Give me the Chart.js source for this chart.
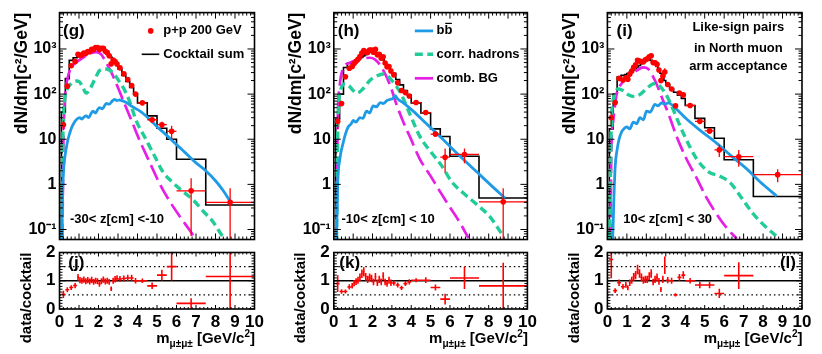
<!DOCTYPE html>
<html><head><meta charset="utf-8">
<script src="https://cdn.jsdelivr.net/npm/chart.js@4.4.1/dist/chart.umd.min.js"></script>
<style>
html,body{margin:0;padding:0;background:#fff;}
#wrap{position:relative;width:822px;height:354px;overflow:hidden;background:#fff;}
#wrap canvas{position:absolute;left:0;top:0;}
</style></head>
<body><div id="wrap"></div>
<script>
// ---------------- data ----------------
const massEdges = [0.1,0.3,0.5,0.7,0.9,1.0,1.1,1.2,1.3,1.4,1.5,1.6,1.7,1.8,1.9,2.0,2.1,2.2,2.3,2.4,2.5,2.6,2.7,2.8,2.9,3.0,3.2,3.4,3.6,3.8,4.0,4.5,5.0,5.5,6.0,7.5,10.0];
const massCenters = [0.2,0.4,0.6,0.8,0.95,1.05,1.15,1.25,1.35,1.45,1.55,1.65,1.75,1.85,1.95,2.05,2.15,2.25,2.35,2.45,2.55,2.65,2.75,2.85,2.95,3.1,3.3,3.5,3.7,3.9,4.25,4.75,5.25,5.75,6.75,8.75];

// (g)/(j)  -30 < z < -10
const cocktailG = [40,220,560,640,680, 700,740,780,820,860,900,960,1020,1080,1100,1100,1060,1000,920,830,740,650,570,500,430, 360,260,190,140,100, 64,33,17.5,10,3.6,0.35];
const dataG = [21,150,425,530,760, 714,740,811,804,877,873,989,979,1080,1078,968,1039,1040,892,830,710,468,570,525,464, 382,281,209,154,100, 64,27,21,15,0.72,0.4];
const ratioG = [0.52,0.68,0.76,0.83,1.12, 1.02,1.0,1.04,0.98,1.02,0.97,1.03,0.96,1.0,0.98,0.88,0.98,1.04,0.97,1.0,0.96,0.72,1.0,1.05,1.08, 1.06,1.08,1.1,1.1,1.0, 1.0,0.82,1.2,1.5,0.2,1.15];
const relErrG = [0.25,0.13,0.11,0.11,0.11, 0.11,0.11,0.11,0.11,0.11,0.11,0.11,0.11,0.11,0.11,0.11,0.11,0.11,0.11,0.11,0.11,0.11,0.11,0.11,0.11, 0.1,0.1,0.1,0.1,0.1, 0.08,0.14,0.16,0.33,0.9,1.05];
const bbMassG = [0.1,0.15,0.2,0.26,0.35,0.45,0.6,0.77,0.9,1.03,1.15,1.25,1.37,1.5,1.6,1.71,1.85,1.95,2.05,2.2,2.4,2.55,2.7,2.82,2.95,3.08,3.4,3.76,4.2,4.53,5.0,5.47,6.0,6.5,7.0,7.5,8.0,8.4,8.75];
const bbG = [0.06,0.5,1.8,3.6,6.5,10.5,17,24,28,30,28,31,33,30,36,42,38,45,50,47,62,60,70,76,72,74,66,52,40,30,19,12.5,7.6,4.8,3.0,2.0,1.2,0.72,0.42];
const hadMassG = [0.12,0.18,0.26,0.4,0.6,0.85,1.03,1.2,1.37,1.6,1.85,2.05,2.39,2.73,3.08,3.35,3.59,3.93,4.45,4.87,5.3,5.81,6.32,6.84,7.35,7.86,8.38,8.6];
const hadG = [0.06,15,70,130,170,195,185,140,105,140,230,330,360,300,187,120,70,26,9.6,4.3,1.9,1.1,0.7,0.46,0.26,0.15,0.07,0.06];
const combMassG = [0.15,0.2,0.26,0.33,0.43,0.6,0.85,1.2,1.54,1.88,2.14,2.39,2.73,3.08,3.42,3.76,4.1,4.62,5.13,5.64,6.15,6.67,7.0];
const combG = [0.06,8,59,140,240,390,500,640,780,850,760,500,260,114,50,22,9.6,3.1,1.05,0.43,0.2,0.097,0.06];

// (h)/(k)  -10 < z < 10
const cocktailH = [28,100,390,480,500, 520,550,580,610,650,700,750,800,850,880,880,860,800,730,650,580,510,450,400,350, 290,210,160,120,95, 64,38,17,11.5,4.2,0.5];
const dataH = [25,62,242,374,410, 478,534,592,683,813,924,855,840,952,950,845,980,744,767,624,673,490,405,408,326, 267,179,120,108,91, 65,39,13,4.0,4.6,0.41];
const ratioH = [0.9,0.62,0.62,0.78,0.82, 0.92,0.97,1.02,1.12,1.25,1.32,1.14,1.05,1.12,1.08,0.96,1.14,0.93,1.05,0.96,1.16,0.96,0.9,1.02,0.93, 0.92,0.85,0.75,0.9,0.96, 1.02,1.02,0.76,0.35,1.1,0.82];
const relErrH = [0.33,0.13,0.12,0.12,0.12, 0.12,0.12,0.12,0.12,0.12,0.12,0.12,0.12,0.12,0.12,0.12,0.12,0.12,0.12,0.12,0.12,0.12,0.12,0.12,0.12, 0.1,0.1,0.1,0.1,0.1, 0.07,0.1,0.14,0.55,0.36,1.0];
const bbMassH = [0.14,0.2,0.31,0.48,0.6,0.74,0.9,1.0,1.15,1.34,1.5,1.69,1.85,2.03,2.2,2.4,2.55,2.75,2.9,3.05,3.16,3.3,3.59,4.1,4.79,5.66,6.52,7.38,8.07,8.84];
const bbH = [0.06,1.0,3.6,8.2,13,18.7,22,26,24,30,29,42,38,55,52,65,62,72,76,80,92,78,64,42,22,9.7,4.2,1.9,1.0,0.5];
const hadMassH = [0.14,0.22,0.35,0.57,0.8,1.0,1.2,1.5,1.86,2.2,2.55,2.75,3.0,3.41,3.93,4.45,5.05,5.57,6.09,6.69,7.38,8.07,8.76];
const hadH = [0.06,30,120,170,150,120,105,130,200,250,280,260,200,114,36,11.4,5,2.6,1.14,0.64,0.36,0.19,0.07];
const combMassH = [0.14,0.2,0.31,0.48,0.83,1.34,1.86,2.12,2.47,2.9,3.24,3.59,3.93,4.45,4.97,5.48,6.0,6.52,6.95];
const combH = [0.06,20,159,361,500,590,640,590,390,160,59,24,11.4,3.6,1.6,0.7,0.31,0.14,0.065];

// (i)/(l)  10 < z < 30
const cocktailI = [17,100,240,260,270, 285,300,320,345,370,400,430,470,510,550,580,580,560,520,470,410,350,290,240,200, 160,130,110,95,80, 56,29,18,10.5,3.5,0.54];
const dataI = [30,65,223,205,230, 214,279,326,393,444,560,542,526,520,578,609,673,706,499,494,459,343,200,252,310, 163,130,55,106,96, 56,25,15.3,5.8,4.1,1.64];
const ratioI = [1.75,0.65,0.93,0.79,0.85, 0.75,0.93,1.02,1.14,1.2,1.4,1.26,1.12,1.02,1.05,1.05,1.16,1.26,0.96,1.05,1.12,0.98,0.69,1.05,1.55, 1.02,1.0,0.5,1.12,1.2, 1.0,0.85,0.85,0.55,1.18,3.0];
const relErrI = [0.38,0.13,0.12,0.12,0.12, 0.12,0.12,0.12,0.12,0.12,0.12,0.12,0.12,0.12,0.12,0.12,0.12,0.12,0.12,0.12,0.12,0.12,0.13,0.12,0.2, 0.11,0.11,0.12,0.11,0.11, 0.1,0.14,0.14,0.3,0.4,0.32];
const bbMassI = [0.27,0.3,0.33,0.4,0.5,0.6,0.73,0.85,0.99,1.15,1.33,1.5,1.67,1.85,2.01,2.2,2.44,2.6,2.78,2.95,3.13,3.56,4.07,4.75,5.61,6.47,7.16,7.84,8.7];
const bbI = [0.06,0.15,0.43,2.5,5.9,10,14.6,17,18.7,17,24,22,30,27,42,40,59,55,64,60,64,46,28,15.9,8.2,3.9,2.2,1.14,0.55];
const hadMassI = [0.12,0.2,0.35,0.55,0.8,1.1,1.4,1.7,2.0,2.3,2.5,2.7,3.0,3.3,3.5,4.0,4.6,5.2,5.8,6.3,6.9,7.5,8.0,8.7];
const hadI = [0.06,20,90,130,120,95,88,100,130,165,172,150,100,55,34,11,3.6,1.9,1.5,1.1,0.5,0.22,0.13,0.07];
const combMassI = [0.16,0.2,0.3,0.47,0.73,1.16,1.5,1.84,2.1,2.44,2.78,3.21,3.56,4.07,4.58,5.1,5.61,6.12,6.64];
const combI = [0.06,5,26,97,172,260,330,390,360,203,89,30,11.4,3.6,1.4,0.5,0.22,0.11,0.063];

// axes
const YMIN = 0.06, YMAX = 6400, XMIN = 0, XMAX = 10;
const topYTicks = [0.1, 1, 10, 100, 1000];
const topYTickLabels = ['10\u207B\u00B9', '1', '10', '10\u00B2', '10\u00B3'];
const ratioYTicks = [0, 1, 2];
const xTicks = [0,1,2,3,4,5,6,7,8,9,10];
const refLevels = [0.5, 1.0, 1.5];

// ---------------- styles & layout ----------------
const FONT = "'Liberation Sans', Arial, Helvetica, sans-serif";
const RED = '#ff0000', BLUE = '#1f9be6', TEAL = '#22cc99', MAG = '#e61ee6';
const TOP_T = 5, TOP_B = 239.5, BOT_T = 252.5, BOT_B = 309;
const wrap = document.getElementById('wrap');

function mk() {
  const c = document.createElement('canvas');
  c.width = 822; c.height = 354; c.style.width = '822px'; c.style.height = '354px';
  wrap.appendChild(c); return c;
}
function pts(xs, ys) { return xs.map((x, i) => ({x: x, y: ys[i]})); }
function txt(ctx, s, x, y, size, align, base) {
  ctx.font = 'bold ' + size + 'px ' + FONT; ctx.fillStyle = '#000';
  ctx.textAlign = align || 'left'; ctx.textBaseline = base || 'middle'; ctx.fillText(s, x, y);
}
function rich(ctx, segs, x, y) { // right aligned, alphabetic baseline
  let w = 0;
  segs.forEach(s => { ctx.font = 'bold ' + s.size + 'px ' + FONT; s.w = ctx.measureText(s.t).width; w += s.w; });
  let cx = x - w; ctx.textAlign = 'left'; ctx.textBaseline = 'alphabetic'; ctx.fillStyle = '#000';
  segs.forEach(s => { ctx.font = 'bold ' + s.size + 'px ' + FONT; ctx.fillText(s.t, cx, y + (s.dy || 0)); cx += s.w; });
}
function legLine(ctx, x1, x2, y, color, w, dash) {
  ctx.save(); ctx.strokeStyle = color; ctx.lineWidth = w; ctx.setLineDash(dash || []);
  ctx.beginPath(); ctx.moveTo(x1, y); ctx.lineTo(x2, y); ctx.stroke(); ctx.restore();
}

function framePlugin(kind) {
  return { id: 'frame', afterDatasetsDraw(chart) {
    const ctx = chart.ctx, a = chart.chartArea, xs = chart.scales.x, ys = chart.scales.y;
    ctx.save(); ctx.strokeStyle = '#000'; ctx.lineWidth = 1; ctx.setLineDash([]);
    ctx.beginPath();
    const xb = kind === 'log' ? 6 : 4, xsm = xb / 2;
    for (let k = 0; k <= 50; k++) {
      const px = xs.getPixelForValue(k / 5), L = (k % 5 === 0) ? xb : xsm;
      ctx.moveTo(px, a.bottom); ctx.lineTo(px, a.bottom - L);
      ctx.moveTo(px, a.top); ctx.lineTo(px, a.top + L);
    }
    if (kind === 'log') {
      for (let e = -2; e <= 3; e++) for (let m = 1; m <= 9; m++) {
        const v = m * Math.pow(10, e); if (v < YMIN || v > YMAX) continue;
        const py = ys.getPixelForValue(v), L = m === 1 ? 7 : 3.5;
        ctx.moveTo(a.left, py); ctx.lineTo(a.left + L, py);
        ctx.moveTo(a.right, py); ctx.lineTo(a.right - L, py);
      }
    } else {
      for (let k = 0; k <= 20; k++) {
        const py = ys.getPixelForValue(k / 10), L = k % 10 === 0 ? 6 : (k % 5 === 0 ? 4.5 : 3);
        ctx.moveTo(a.left, py); ctx.lineTo(a.left + L, py);
        ctx.moveTo(a.right, py); ctx.lineTo(a.right - L, py);
      }
    }
    ctx.stroke();
    ctx.lineWidth = 1.6; ctx.strokeRect(a.left, a.top, a.right - a.left, a.bottom - a.top);
    ctx.restore();
  }};
}

function errPlugin(xv, yv, rel, idx, lw) {
  return { id: 'err', beforeDatasetDraw(chart, args) {
    if (args.index !== idx) return;
    const ctx = chart.ctx, a = chart.chartArea, xs = chart.scales.x, ys = chart.scales.y;
    ctx.save(); ctx.beginPath(); ctx.rect(a.left, a.top, a.right - a.left, a.bottom - a.top); ctx.clip();
    ctx.strokeStyle = RED; ctx.lineWidth = lw; ctx.beginPath();
    xv.forEach((x, i) => {
      const y = yv[i], e = y * rel[i];
      const px = xs.getPixelForValue(x), py = ys.getPixelForValue(y);
      const xl = xs.getPixelForValue(massEdges[i]), xr = xs.getPixelForValue(massEdges[i + 1]);
      const yt = ys.getPixelForValue(y + e);
      const lo = y - e;
      const yb = (ys.type === 'logarithmic' && lo <= 0) ? a.bottom + 20 : ys.getPixelForValue(lo);
      ctx.moveTo(xl, py); ctx.lineTo(xr, py); ctx.moveTo(px, yt); ctx.lineTo(px, yb);
    });
    ctx.stroke(); ctx.restore();
  }};
}

function textPlugin(fn) { return { id: 'txt', afterDraw(chart) { const ctx = chart.ctx; ctx.save(); fn(ctx, chart.chartArea); ctx.restore(); } }; }

function topChart(P) {
  const histPts = [{x: massEdges[0], y: YMIN / 2}].concat(massEdges.map((e, i) => ({x: e, y: P.hist[Math.min(i, P.hist.length - 1)]})));
  new Chart(mk(), {
    type: 'scatter',
    data: { datasets: [
      {label: 'p+p 200 GeV', data: pts(massCenters, P.data), showLine: false, pointRadius: 2.8, pointBackgroundColor: RED, pointBorderWidth: 0, pointBorderColor: RED},
      {label: 'bb\u0304', data: pts(P.bbM, P.bb), showLine: true, borderColor: BLUE, borderWidth: 2.8, pointRadius: 0, cubicInterpolationMode: 'monotone'},
      {label: 'corr. hadrons', data: pts(P.hadM, P.had), showLine: true, borderColor: TEAL, borderWidth: 3.4, borderDash: [8, 4.5], pointRadius: 0, cubicInterpolationMode: 'monotone'},
      {label: 'comb. BG', data: pts(P.combM, P.comb), showLine: true, borderColor: MAG, borderWidth: 2.7, borderDash: [16, 6], pointRadius: 0, cubicInterpolationMode: 'monotone'},
      {label: 'Cocktail sum', data: histPts, showLine: true, stepped: 'before', borderColor: '#000', borderWidth: 1.6, pointRadius: 0}
    ]},
    options: {
      responsive: false, animation: false, devicePixelRatio: 1, events: [],
      layout: { autoPadding: false, padding: { left: P.l - 48, right: 822 - P.r, top: TOP_T, bottom: 354 - TOP_B } },
      plugins: { legend: { display: false }, tooltip: { enabled: false } },
      scales: {
        x: { type: 'linear', position: 'bottom', min: XMIN, max: XMAX, ticks: { display: false }, grid: { display: false, drawTicks: false }, border: { display: false }, afterFit(s) { s.height = 0; } },
        y: { type: 'logarithmic', position: 'left', min: YMIN, max: YMAX,
             afterBuildTicks(s) { s.ticks = topYTicks.map(v => ({value: v})); },
             ticks: { autoSkip: false, padding: 3, color: '#000', font: { family: FONT, size: 16, weight: 'bold' }, callback: (v, i) => topYTickLabels[i] },
             grid: { display: false, drawTicks: false }, border: { display: false },
             title: { display: true, text: 'dN/dm[c\u00B2/GeV]', align: 'end', color: '#000', font: { family: FONT, size: 17.5, weight: 'bold' }, padding: 0 },
             afterFit(s) { s.width = 48; } }
      }
    },
    plugins: [framePlugin('log'), errPlugin(massCenters, P.data, P.err, 0, 1.3), textPlugin(P.topText)]
  });
}

function botChart(P) {
  const ds = [{label: 'data/cocktail', data: pts(massCenters, P.ratio), showLine: false, pointRadius: 0}];
  refLevels.forEach(lv => ds.push({label: 'ref', data: [{x: XMIN, y: lv}, {x: XMAX, y: lv}], showLine: true, pointRadius: 0,
    borderColor: '#000', borderWidth: lv === 1 ? 1.4 : 1.1, borderDash: lv === 1 ? [] : [1.5, 3]}));
  new Chart(mk(), {
    type: 'scatter',
    data: { datasets: ds },
    options: {
      responsive: false, animation: false, devicePixelRatio: 1, events: [],
      layout: { autoPadding: false, padding: { left: P.l - 41.5, right: 822 - P.r, top: BOT_T, bottom: 354 - BOT_B - 20 } },
      plugins: { legend: { display: false }, tooltip: { enabled: false } },
      scales: {
        x: { type: 'linear', position: 'bottom', min: XMIN, max: XMAX,
             afterBuildTicks(s) { s.ticks = xTicks.map(v => ({value: v})); },
             ticks: { autoSkip: false, maxRotation: 0, minRotation: 0, padding: 3, color: '#000', font: { family: FONT, size: 17, weight: 'bold' }, callback: v => String(v) },
             grid: { display: false, drawTicks: false }, border: { display: false }, afterFit(s) { s.height = 20; } },
        y: { type: 'linear', position: 'left', min: 0, max: 2,
             afterBuildTicks(s) { s.ticks = ratioYTicks.map(v => ({value: v})); },
             ticks: { autoSkip: false, padding: 4, color: '#000', font: { family: FONT, size: 17, weight: 'bold' }, callback: v => String(v) },
             grid: { display: false, drawTicks: false }, border: { display: false },
             title: { display: true, text: 'data/cocktail', align: 'end', color: '#000', font: { family: FONT, size: 15, weight: 'bold' }, padding: 0 },
             afterFit(s) { s.width = 41.5; } }
      }
    },
    plugins: [framePlugin('lin'), errPlugin(massCenters, P.ratio, P.err, 0, 1.6), textPlugin(P.botText)]
  });
}

function xTitle(ctx, a) {
  rich(ctx, [{t: 'm', size: 15}, {t: '\u03BC\u00B1\u03BC\u00B1', size: 10, dy: 4}, {t: ' [GeV/c', size: 15}, {t: '2', size: 10, dy: -6}, {t: ']', size: 15}], a.right + 0.5, a.bottom + 34);
}

const panels = [
  { l: 59.5, r: 254.5, hist: cocktailG, data: dataG, ratio: ratioG, err: relErrG, bbM: bbMassG, bb: bbG, hadM: hadMassG, had: hadG, combM: combMassG, comb: combG,
    topText(ctx, a) {
      txt(ctx, '(g)', a.left + 3.5, a.top + 19, 17);
      ctx.fillStyle = RED; ctx.beginPath(); ctx.arc(a.left + 91.2, a.top + 18.3, 2.8, 0, Math.PI * 2); ctx.fill();
      txt(ctx, 'p+p 200 GeV', a.left + 103.8, a.top + 18.3, 13);
      legLine(ctx, a.left + 82.2, a.left + 99.8, a.top + 41.7, '#000', 1.6);
      txt(ctx, 'Cocktail sum', a.left + 103.8, a.top + 41.7, 13);
      txt(ctx, '-30< z[cm] <-10', a.left + 10.5, a.top + 207, 13);
    },
    botText(ctx, a) { txt(ctx, '(j)', a.left + 8.8, a.top + 10.5, 17); xTitle(ctx, a); } },
  { l: 333.8, r: 527.4, hist: cocktailH, data: dataH, ratio: ratioH, err: relErrH, bbM: bbMassH, bb: bbH, hadM: hadMassH, had: hadH, combM: combMassH, comb: combH,
    topText(ctx, a) {
      txt(ctx, '(h)', a.left + 4, a.top + 19, 17);
      legLine(ctx, a.left + 81, a.left + 99.3, a.top + 18.3, BLUE, 2.8);
      txt(ctx, 'bb', a.left + 102.7, a.top + 18.3, 13);
      ctx.font = 'bold 13px ' + FONT; const wb = ctx.measureText('b').width;
      legLine(ctx, a.left + 102.7 + wb + 0.8, a.left + 102.7 + 2 * wb - 0.5, a.top + 18.3 - 7.5, '#000', 1.2);
      legLine(ctx, a.left + 81, a.left + 99.3, a.top + 41.7, TEAL, 3.4, [8, 4.5]);
      txt(ctx, 'corr. hadrons', a.left + 102.7, a.top + 41.7, 13);
      legLine(ctx, a.left + 81, a.left + 99.3, a.top + 65.7, MAG, 2.7);
      txt(ctx, 'comb. BG', a.left + 102.7, a.top + 65.7, 13);
      txt(ctx, '-10< z[cm] < 10', a.left + 7.7, a.top + 207, 13);
    },
    botText(ctx, a) { txt(ctx, '(k)', a.left + 5.5, a.top + 10.5, 17); xTitle(ctx, a); } },
  { l: 607.4, r: 802, hist: cocktailI, data: dataI, ratio: ratioI, err: relErrI, bbM: bbMassI, bb: bbI, hadM: hadMassI, had: hadI, combM: combMassI, comb: combI,
    topText(ctx, a) {
      txt(ctx, '(i)', a.left + 9.2, a.top + 19, 17);
      txt(ctx, 'Like-sign pairs', a.left + 130.9, a.top + 15, 13, 'center');
      txt(ctx, 'in North muon', a.left + 130.9, a.top + 35.5, 13, 'center');
      txt(ctx, 'arm acceptance', a.left + 130.9, a.top + 54, 13, 'center');
      txt(ctx, '10< z[cm] < 30', a.left + 15.8, a.top + 207, 13);
    },
    botText(ctx, a) { txt(ctx, '(l)', a.right - 6, a.top + 10.5, 17, 'right'); xTitle(ctx, a); } }
];

panels.forEach(P => { topChart(P); botChart(P); });
</script>
</body></html>
